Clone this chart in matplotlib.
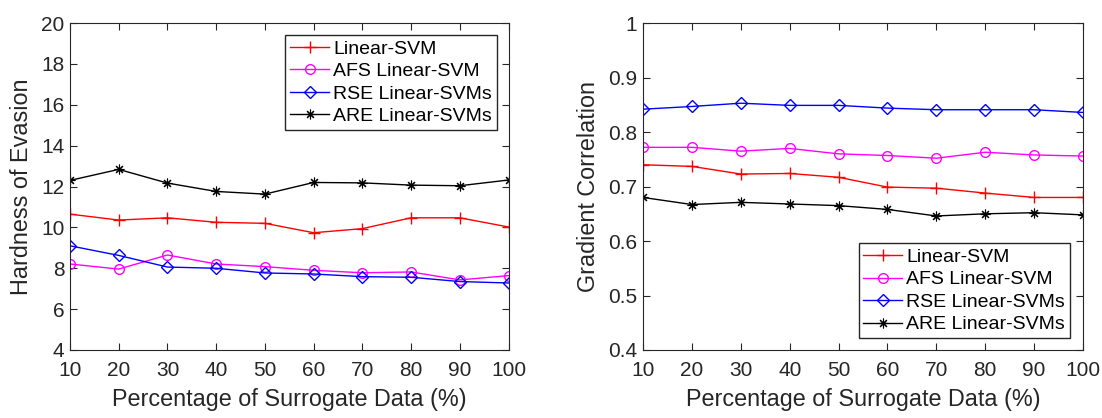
import numpy as np
import matplotlib.pyplot as plt

plt.rcParams['font.family'] = ['Liberation Sans', 'DejaVu Sans']

pct = [10, 20, 30, 40, 50, 60, 70, 80, 90, 100]
names = ["Linear-SVM", "AFS Linear-SVM", "RSE Linear-SVMs", "ARE Linear-SVMs"]

# hardness of evasion
hard_svm = [10.65, 10.36, 10.47, 10.25, 10.20, 9.74, 9.94, 10.47, 10.47, 10.02]
hard_afs = [8.21, 7.96, 8.65, 8.21, 8.08, 7.90, 7.78, 7.82, 7.43, 7.64]
hard_rse = [9.10, 8.63, 8.06, 8.00, 7.77, 7.72, 7.59, 7.56, 7.35, 7.28]
hard_are = [12.30, 12.84, 12.17, 11.76, 11.63, 12.20, 12.18, 12.07, 12.04, 12.32]

# gradient correlation
corr_svm = [0.740, 0.737, 0.723, 0.724, 0.717, 0.699, 0.697, 0.688, 0.680, 0.680]
corr_afs = [0.772, 0.772, 0.765, 0.770, 0.760, 0.757, 0.752, 0.763, 0.758, 0.756]
corr_rse = [0.842, 0.847, 0.853, 0.849, 0.849, 0.844, 0.841, 0.841, 0.841, 0.836]
corr_are = [0.680, 0.667, 0.671, 0.668, 0.665, 0.658, 0.646, 0.650, 0.652, 0.648]

styles = [dict(color='r', marker='+', ms=8, mfc='none'),
          dict(color='#ff00ff', marker='o', ms=7, mfc='none'),
          dict(color='b', marker='D', ms=6, mfc='none'),
          dict(color='k', marker=(8, 2, 0), ms=7, mew=0.8, mfc='none')]

fig = plt.figure(figsize=(11.02, 4.18), dpi=100)
ax1 = fig.add_axes([0.0635, 0.1627, 0.398, 0.782])
ax2 = fig.add_axes([0.5835, 0.1627, 0.3993, 0.782])

def setup(ax, ylim, yticks, ylabel, ytl):
    ax.set_xlim(10, 100)
    ax.set_xticks(pct)
    ax.set_ylim(*ylim)
    ax.set_yticks(yticks)
    ax.set_yticklabels(ytl)
    ax.tick_params(direction='in', top=True, right=True, labelsize=15, length=5,
                   width=0.8, color='#262626', labelcolor='#262626', pad=4)
    ax.tick_params(axis='x', pad=8)
    for s in ax.spines.values():
        s.set_color('#262626')
        s.set_linewidth(0.8)
    ax.set_xlabel("Percentage of Surrogate Data (%)", fontsize=16.8,
                  color='#262626', labelpad=6)
    ax.set_ylabel(ylabel, fontsize=16.8, color='#262626', labelpad=6)

for data, st, nm in zip([hard_svm, hard_afs, hard_rse, hard_are], styles, names):
    ax1.plot(pct, data, lw=1, label=nm, **st)
setup(ax1, (4, 20), np.arange(4, 21, 2), "Hardness of Evasion",
      [str(v) for v in range(4, 21, 2)])
ax1.legend(loc='upper right', bbox_to_anchor=(0.973, 0.963), fontsize=14,
           frameon=True, fancybox=False, edgecolor='#262626', framealpha=1,
           handlelength=2.0, handletextpad=0.2, borderpad=0.25, labelspacing=0.25,
           borderaxespad=0)

for data, st, nm in zip([corr_svm, corr_afs, corr_rse, corr_are], styles, names):
    ax2.plot(pct, data, lw=1, label=nm, **st)
yt = [0.4, 0.5, 0.6, 0.7, 0.8, 0.9, 1.0]
setup(ax2, (0.4, 1.0), yt, "Gradient Correlation",
      ["0.4", "0.5", "0.6", "0.7", "0.8", "0.9", "1"])
ax2.legend(loc='lower right', bbox_to_anchor=(0.97, 0.036), fontsize=14,
           frameon=True, fancybox=False, edgecolor='#262626', framealpha=1,
           handlelength=2.0, handletextpad=0.2, borderpad=0.25, labelspacing=0.25,
           borderaxespad=0)

fig.savefig("out.png", dpi=100)
